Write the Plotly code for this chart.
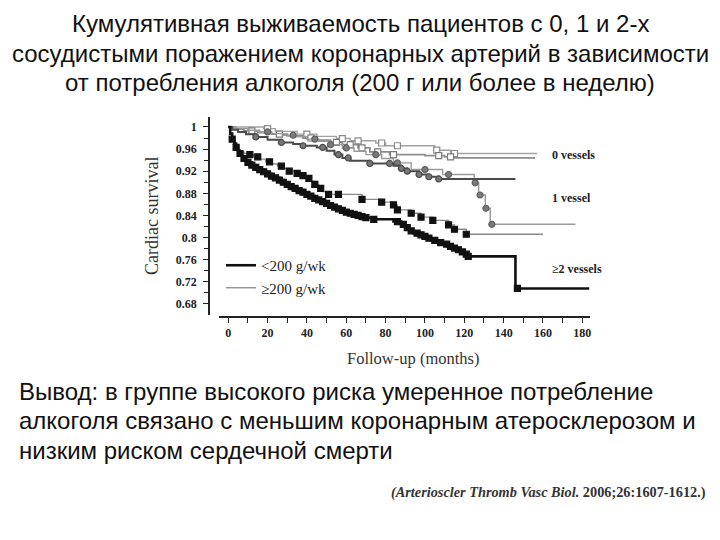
import numpy as np
import plotly.graph_objects as go

W, H = 720, 540

# ---------------- data ----------------
month_ticks = [0, 20, 40, 60, 80, 100, 120, 140, 160, 180]
month_tick_text = ["0", "20", "40", "60", "80", "100", "120", "140", "160", "180"]
month_minor = [10, 30, 50, 70, 90, 110, 130, 150, 170]
surv_ticks = [0.68, 0.72, 0.76, 0.80, 0.84, 0.88, 0.92, 0.96, 1.00]
surv_tick_text = ["0.68", "0.72", "0.76", "0.8", "0.84", "0.88", "0.92", "0.96", "1"]
surv_minor = [0.70, 0.74, 0.78, 0.82, 0.86, 0.90, 0.94, 0.98]

# 0 vessels, <200 g/wk
v0_lo_t = [0, 3, 8, 15, 22, 30, 38, 45, 52, 58, 66, 72, 82, 100, 110, 114]
v0_lo_s = [1.0, .996, .993, .990, .987, .984, .980, .976, .972, .968, .962, .955, .950, .948, .946, .944]
v0_lo_end = 156
v0_lo_cens = [12, 26, 42, 55, 62, 68, 76, 84, 107, 113]
# 0 vessels, >=200 g/wk
v0_hi_t = [0, 18, 24, 35, 45, 55, 62, 75, 80, 105, 113]
v0_hi_s = [1.0, .997, .992, .987, .983, .979, .975, .971, .966, .958, .952]
v0_hi_end = 157
v0_hi_cens = [20, 40, 58, 66, 78, 86, 106, 115]

# 1 vessel, <200 g/wk
v1_lo_t = [0, 2, 5, 9, 14, 20, 27, 33, 38, 45, 50, 54, 58, 62, 72, 84, 88, 91, 97, 102, 107]
v1_lo_s = [1.0, .995, .991, .987, .982, .977, .972, .969, .966, .963, .957, .950, .944, .939, .934, .930, .925, .920, .914, .910, .906]
v1_lo_end = 146
v1_lo_cens = [14, 27, 38, 48, 56, 61, 72, 82, 88, 91, 97, 102, 107]
# 1 vessel, >=200 g/wk
v1_hi_t = [0, 4, 10, 16, 22, 28, 34, 40, 46, 52, 58, 64, 70, 78, 84, 93, 109, 125, 127.3, 130.7, 133.2]
v1_hi_s = [1.0, .997, .994, .991, .988, .985, .982, .978, .974, .968, .962, .956, .950, .943, .935, .923, .914, .899, .877, .853, .824]
v1_hi_end = 176.5
v1_hi_cens = [20, 33, 44, 52, 60, 75, 86, 100, 112, 125.5, 128, 131, 134]

# >=2 vessels, <200 g/wk
v2_lo_t = [0, 1, 2, 3, 4, 5, 6, 7, 8, 9, 10, 12, 14, 16, 18, 20, 22, 24, 26, 28,
           30, 32, 34, 36, 38, 40, 42, 44, 46, 48, 50, 52, 54, 56, 58, 60, 62, 64, 66, 68,
           70, 73, 84, 88, 90, 92, 94, 97, 99, 101, 103, 106, 109, 112, 114, 116, 118, 120, 122, 146]
v2_lo_s = [1.000, .988, .978, .970, .963, .957, .952, .947, .943, .939, .936, .931, .927, .923, .919,
           .915, .911, .908, .904, .900, .896, .892, .889, .885, .882, .878, .875, .871, .868, .865,
           .862, .858, .855, .852, .849, .846, .844, .842, .840, .838, .836, .833, .829, .824, .818,
           .812, .808, .805, .802, .799, .795, .791, .788, .784, .781, .778, .774, .770, .766, .708]
v2_lo_end = 183.5
v2_lo_cens = [2, 4, 6, 8, 10, 12, 14, 16, 18, 20, 22, 24, 26, 28, 30, 32, 34, 36, 38, 40, 42, 44,
              46, 48, 50, 52, 54, 56, 58, 60, 62, 64, 66, 68, 70, 74, 86, 89, 91, 93, 96, 98,
              100, 102, 105, 108, 111, 113, 115, 117, 119, 121, 122, 147]
# >=2 vessels, >=200 g/wk
v2_hi_t = [0, 1, 2, 3, 4, 5, 6, 8, 10, 13, 16, 19, 22, 25, 28, 31, 34, 37, 40, 42, 44, 46, 48, 50,
           68, 78, 84, 86, 93, 98, 104, 112, 115, 121]
v2_hi_s = [1.0, .988, .978, .970, .963, .958, .955, .952, .950, .946, .942, .937, .933, .929, .925,
           .920, .916, .912, .907, .902, .896, .889, .883, .878, .869, .864, .859, .850, .844, .837,
           .831, .823, .815, .806]
v2_hi_end = 160
v2_hi_cens = [11, 15, 21, 27, 31, 35, 38, 41, 44, 47, 51, 56, 68, 78, 84, 86, 93, 98, 104, 112, 115, 121]

# ---------------- helpers ----------------
def step_line(t, s, t_end):
    return list(t) + [t_end], list(s) + [s[-1]]


def cens_y(t, s, times):
    idx = np.searchsorted(np.array(t), np.array(times), side="right") - 1
    return [s[i] for i in idx]


def px(x):
    return x / W


def py(y):
    return 1 - y / H


fig = go.Figure()

curves = [
    (v0_hi_t, v0_hi_s, v0_hi_end, v0_hi_cens, "#a2a2a2", 1.4, "square", "white", "#8a8a8a", None),
    (v0_lo_t, v0_lo_s, v0_lo_end, v0_lo_cens, "#8c8c8c", 1.8, "square", "white", "#7a7a7a", None),
    (v1_hi_t, v1_hi_s, v1_hi_end, v1_hi_cens, "#9a9a9a", 1.4, "circle", "#7a7a7a", "#5e5e5e", None),
    (v1_lo_t, v1_lo_s, v1_lo_end, v1_lo_cens, "#4a4a4a", 2.0, "circle", "#777777", "#4a4a4a", None),
    (v2_hi_t, v2_hi_s, v2_hi_end, v2_hi_cens, "#8a8a8a", 1.3, "square", "#111111", "#111111", "≥200 g/wk"),
    (v2_lo_t, v2_lo_s, v2_lo_end, v2_lo_cens, "#111111", 2.6, "square", "#111111", "#111111", "<200 g/wk"),
]

for t, s, end, cens, col, wid, sym, mfill, mline, name in curves:
    xs, ys = step_line(t, s, end)
    fig.add_trace(go.Scatter(
        x=xs, y=ys, mode="lines", line=dict(color=col, width=wid, shape="hv"),
        name=name if name else "", showlegend=bool(name),
        legendrank=1 if name == "<200 g/wk" else 2,
        hoverinfo="skip"))
    fig.add_trace(go.Scatter(
        x=cens, y=cens_y(t, s, cens), mode="markers",
        marker=dict(symbol=sym, size=6, color=mfill, line=dict(color=mline, width=1.2)),
        showlegend=False, hoverinfo="skip"))

serif = "Liberation Serif"
sans = "Liberation Sans"

fig.update_layout(
    width=W, height=H, margin=dict(l=0, r=0, t=0, b=0),
    paper_bgcolor="white", plot_bgcolor="white",
    showlegend=True,
    legend=dict(x=px(221), y=py(249), xanchor="left", yanchor="top",
                bgcolor="rgba(0,0,0,0)", borderwidth=0,
                font=dict(family=serif, size=15, color="#222")),
    xaxis=dict(domain=[px(219), px(590)], range=[-4.7, 183.9], anchor="free", position=py(317),
               showline=True, linecolor="#222", linewidth=1.5, showgrid=False, zeroline=False,
               ticks="outside", ticklen=5, tickwidth=1.2, tickcolor="#222",
               tickmode="array", tickvals=month_ticks, ticktext=month_tick_text,
               minor=dict(tickmode="array", tickvals=month_minor, ticks="outside", ticklen=5,
                          tickwidth=1.2, tickcolor="#222", showgrid=False),
               tickfont=dict(family=serif, size=12, color="#222", weight="bold")),
    yaxis=dict(domain=[py(315), py(117)], range=[0.66, 1.018], anchor="free", position=px(209),
               showline=True, linecolor="#222", linewidth=1.5, showgrid=False, zeroline=False,
               ticks="outside", ticklen=5, tickwidth=1.2, tickcolor="#222",
               tickmode="array", tickvals=surv_ticks, ticktext=surv_tick_text,
               minor=dict(tickmode="array", tickvals=surv_minor, ticks="outside", ticklen=4,
                          tickwidth=1.2, tickcolor="#222", showgrid=False),
               ticklabelstandoff=4,
               tickfont=dict(family=serif, size=12, color="#222", weight="bold")),
)

ann = []
for text, y in [("0 vessels", 155), ("1 vessel", 198), ("≥2 vessels", 269)]:
    ann.append(dict(text=f"<b>{text}</b>", x=px(550), y=py(y), xref="paper", yref="paper",
                    xanchor="left", yanchor="middle", showarrow=False,
                    font=dict(family=serif, size=12, color="#222")))
ann.append(dict(text="Cardiac survival", x=px(152), y=py(216), xref="paper", yref="paper",
                textangle=-90, showarrow=False, xanchor="center", yanchor="middle",
                font=dict(family=serif, size=18, color="#333")))
ann.append(dict(text="Follow-up (months)", x=px(413), y=py(358), xref="paper", yref="paper",
                showarrow=False, xanchor="center", yanchor="middle",
                font=dict(family=serif, size=16.5, color="#333")))
title_lines = ["Кумулятивная выживаемость пациентов с 0, 1 и 2-х",
               "сосудистыми поражением коронарных артерий в зависимости",
               "от потребления алкоголя (200 г или более в неделю)"]
for i, line in enumerate(title_lines):
    ann.append(dict(text=line, x=0.5, y=py(24 + 29.5 * i), xref="paper", yref="paper",
                    showarrow=False, xanchor="center", yanchor="middle",
                    font=dict(family=sans, size=24, color="#111")))
concl_lines = ["Вывод: в группе высокого риска умеренное потребление",
               "алкоголя связано с меньшим коронарным атеросклерозом и",
               "низким риском сердечной смерти"]
for i, line in enumerate(concl_lines):
    ann.append(dict(text=line, x=px(17), y=py(391.5 + 29.3 * i), xref="paper", yref="paper",
                    showarrow=False, xanchor="left", yanchor="middle",
                    font=dict(family=sans, size=24, color="#111")))
ann.append(dict(text="<b><i>(Arterioscler Thromb Vasc Biol.</i> 2006;26:1607-1612.)</b>",
                x=px(548), y=py(492), xref="paper", yref="paper", showarrow=False,
                xanchor="center", yanchor="middle",
                font=dict(family=serif, size=14.3, color="#333")))

fig.update_layout(annotations=ann)

fig.write_html("out.html")
